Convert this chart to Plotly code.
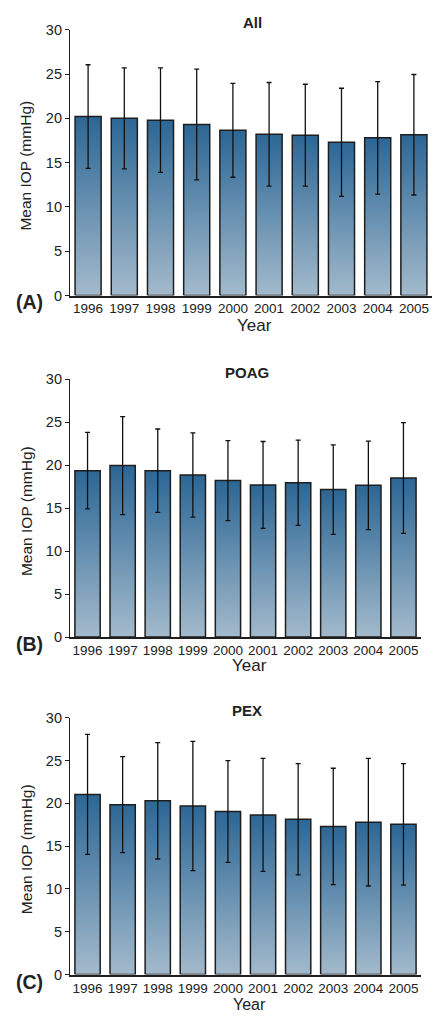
import plotly.graph_objects as go

years = ["1996", "1997", "1998", "1999", "2000", "2001", "2002", "2003", "2004", "2005"]

all_mean = [20.2, 20.0, 19.8, 19.3, 18.65, 18.2, 18.1, 17.3, 17.8, 18.15]
all_sd = [5.85, 5.7, 5.9, 6.25, 5.3, 5.85, 5.75, 6.1, 6.35, 6.8]

poag_mean = [19.35, 19.95, 19.35, 18.85, 18.2, 17.7, 17.95, 17.15, 17.65, 18.5]
poag_sd = [4.45, 5.7, 4.85, 4.9, 4.65, 5.05, 4.95, 5.2, 5.15, 6.45]

pex_mean = [21.05, 19.85, 20.3, 19.7, 19.05, 18.65, 18.15, 17.3, 17.8, 17.55]
pex_sd = [7.0, 5.6, 6.8, 7.55, 5.95, 6.6, 6.5, 6.8, 7.45, 7.1]

panels = [
    ("All", "(A)", all_mean, all_sd),
    ("POAG", "(B)", poag_mean, poag_sd),
    ("PEX", "(C)", pex_mean, pex_sd),
]

# page has an 8px body margin, so the figure is drawn 8px in from the window edges
OFF = 8
W, H = 440 - 2 * OFF, 1021 - OFF
# window-pixel layout of each plot area: (left, right, top, bottom)
boxes = [(70, 432, 22, 292), (70, 421, 377, 639), (70, 421, 721, 982)]
year_dy = [30, 29, 30]
year_size = [17, 17, 16]


def px(xw):
    return (xw - OFF) / W


def py(yw):
    return 1 - (yw - OFF) / H


FONT = "Liberation Sans, Arial, Helvetica, sans-serif"
TXT = "#222222"
TOP = "#2d6795"
BOT = "#a6bccd"
HALF = 0.36

fig = go.Figure()
for k, (title, tag, means, sds) in enumerate(panels):
    xa = "x" if k == 0 else f"x{k+1}"
    ya = "y" if k == 0 else f"y{k+1}"
    for i, (m, s) in enumerate(zip(means, sds)):
        fig.add_trace(go.Scatter(
            x=[i - HALF, i - HALF, i + HALF, i + HALF, i - HALF],
            y=[0, m, m, 0, 0],
            mode="lines", fill="toself",
            line=dict(color="#1e1e1e", width=1.5),
            fillgradient=dict(type="vertical", colorscale=[[0, BOT], [1, TOP]],
                              start=0, stop=m),
            xaxis=xa, yaxis=ya, showlegend=False, hoverinfo="skip",
        ))
    fig.add_trace(go.Scatter(
        x=list(range(len(years))), y=means, mode="markers",
        marker=dict(size=1, color="rgba(0,0,0,0)"),
        error_y=dict(type="data", array=sds, visible=True, color="#111111",
                     thickness=1.3, width=2.5),
        xaxis=xa, yaxis=ya, showlegend=False, hoverinfo="skip",
    ))
    l, r, t, b = boxes[k]
    xkey = "xaxis" if k == 0 else f"xaxis{k+1}"
    ykey = "yaxis" if k == 0 else f"yaxis{k+1}"
    fig.layout[xkey] = dict(
        domain=[px(l), px(r)], range=[-0.5, 9.5], anchor=ya,
        tickmode="array", tickvals=list(range(len(years))), ticktext=years,
        ticks="", showgrid=False, zeroline=False,
        showline=True, linecolor="#1e1e1e", linewidth=1.5,
        tickfont=dict(family=FONT, size=13.5, color=TXT),
    )
    fig.layout[ykey] = dict(
        domain=[py(b), py(t)], range=[0, 30], anchor=xa,
        tickvals=[0, 5, 10, 15, 20, 25, 30],
        ticks="outside", ticklen=4, tickwidth=1, tickcolor="#1e1e1e",
        showgrid=False, zeroline=False,
        showline=True, linecolor="#1e1e1e", linewidth=1.2,
        tickfont=dict(family=FONT, size=14.5, color=TXT),
    )
    # panel title
    fig.add_annotation(
        x=px((l + r) / 2 + 1), y=py(t - 7), xref="paper", yref="paper",
        text=f"<b>{title}</b>", showarrow=False, xanchor="center", yanchor="middle",
        font=dict(family=FONT, size=15, color=TXT),
    )
    # panel tag
    fig.add_annotation(
        x=px(14), y=py(b + 7), xref="paper", yref="paper",
        text=f"<b>{tag}</b>", showarrow=False, xanchor="left", yanchor="middle",
        font=dict(family=FONT, size=19.5, color=TXT),
    )
    # y-axis title
    fig.add_annotation(
        x=px(26), y=py((t + b) / 2 + 3), xref="paper", yref="paper",
        text="Mean IOP (mmHg)", textangle=-90, showarrow=False,
        xanchor="center", yanchor="middle",
        font=dict(family=FONT, size=15.5, color=TXT),
    )
    # x-axis title
    fig.add_annotation(
        x=px((l + r) / 2 + 4), y=py(b + year_dy[k]), xref="paper", yref="paper",
        text="Year", showarrow=False, xanchor="center", yanchor="middle",
        font=dict(family=FONT, size=year_size[k], color=TXT),
    )

fig.update_layout(
    width=W, height=H,
    margin=dict(l=0, r=0, t=0, b=0),
    paper_bgcolor="white", plot_bgcolor="white",
    showlegend=False,
)
fig.write_html("out.html")
